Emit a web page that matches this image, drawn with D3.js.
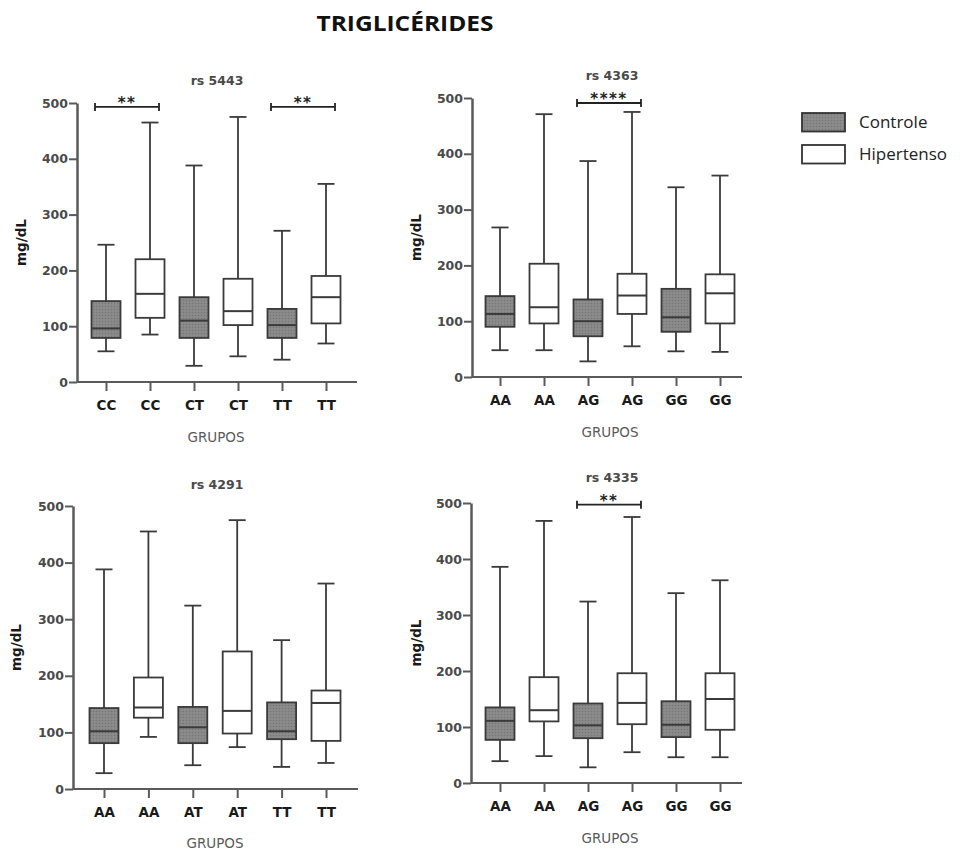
<!DOCTYPE html>
<html>
<head>
<meta charset="utf-8">
<script src="https://cdn.jsdelivr.net/npm/d3@7"></script>
<style>
  html, body { margin: 0; padding: 0; background: #fff; }
  svg { display: block; }
</style>
</head>
<body>
<svg id="chart" width="963" height="852"></svg>
<script>
// Triglycerides (mg/dL) by genotype, Controle vs Hipertenso.
// Each stats entry: [min, Q1, median, Q3, max]; groups alternate Controle / Hipertenso.
const yTicks = [0, 100, 200, 300, 400, 500];
const seriesNames = ["Controle", "Hipertenso"];

const rs5443Groups = ["CC", "CC", "CT", "CT", "TT", "TT"];
const rs5443Stats = [
  [55, 79, 96, 145, 246],
  [85, 115, 158, 220, 465],
  [29, 79, 110, 152, 388],
  [46, 102, 127, 185, 475],
  [40, 79, 102, 131, 271],
  [69, 105, 152, 190, 355]
];
const rs5443Sig = [
  { from: 0, to: 1, level: 493, label: "**" },
  { from: 4, to: 5, level: 493, label: "**" }
];

const rs4363Groups = ["AA", "AA", "AG", "AG", "GG", "GG"];
const rs4363Stats = [
  [48, 90, 113, 145, 268],
  [48, 96, 125, 203, 471],
  [28, 73, 100, 139, 387],
  [55, 113, 146, 185, 475],
  [46, 81, 107, 158, 340],
  [45, 96, 150, 184, 361]
];
const rs4363Sig = [
  { from: 2, to: 3, level: 491, label: "****" }
];

const rs4291Groups = ["AA", "AA", "AT", "AT", "TT", "TT"];
const rs4291Stats = [
  [28, 81, 102, 143, 388],
  [92, 126, 144, 197, 455],
  [42, 81, 109, 145, 324],
  [74, 98, 138, 243, 475],
  [39, 88, 102, 153, 263],
  [46, 85, 152, 174, 363]
];
const rs4291Sig = [];

const rs4335Groups = ["AA", "AA", "AG", "AG", "GG", "GG"];
const rs4335Stats = [
  [39, 77, 111, 135, 386],
  [48, 110, 130, 189, 468],
  [28, 80, 103, 142, 324],
  [55, 105, 143, 196, 475],
  [46, 82, 104, 146, 339],
  [46, 95, 150, 196, 362]
];
const rs4335Sig = [
  { from: 2, to: 3, level: 497, label: "**" }
];

const svg = d3.select("#chart");

// Crosshatch texture for the Controle boxes
const defs = svg.append("defs");
const pat = defs.append("pattern")
  .attr("id", "ctrlFill")
  .attr("width", 3).attr("height", 3)
  .attr("patternUnits", "userSpaceOnUse");
pat.append("rect").attr("width", 3).attr("height", 3).attr("fill", "#878787");
pat.append("rect").attr("x", 0).attr("y", 0).attr("width", 1).attr("height", 1).attr("fill", "#767676");
pat.append("rect").attr("x", 1.5).attr("y", 1.5).attr("width", 1).attr("height", 1).attr("fill", "#969696");

const fills = ["url(#ctrlFill)", "#ffffff"];

// Main title
svg.append("text")
  .attr("x", 405).attr("y", 31)
  .attr("text-anchor", "middle")
  .attr("font-family", "'Open Sans', sans-serif")
  .attr("font-weight", "bold")
  .attr("font-size", 21)
  .attr("textLength", 177)
  .attr("lengthAdjust", "spacingAndGlyphs")
  .attr("fill", "#111")
  .text("TRIGLICÉRIDES");

const panels = [
  { title: "rs 5443", groups: rs5443Groups, stats: rs5443Stats, sig: rs5443Sig,
    axisX: [77, 357], centers: [106, 326], yPix: [382, 103], titleX: 217, titleY: 85,
    ylabX: 21, xlabY: 412, grpY: 442 },
  { title: "rs 4363", groups: rs4363Groups, stats: rs4363Stats, sig: rs4363Sig,
    axisX: [472, 742], centers: [500, 720], yPix: [377, 98], titleX: 612, titleY: 80,
    ylabX: 416, xlabY: 410, grpY: 437 },
  { title: "rs 4291", groups: rs4291Groups, stats: rs4291Stats, sig: rs4291Sig,
    axisX: [73, 358], centers: [104, 326], yPix: [789, 506], titleX: 217, titleY: 489,
    ylabX: 16, xlabY: 815, grpY: 848 },
  { title: "rs 4335", groups: rs4335Groups, stats: rs4335Stats, sig: rs4335Sig,
    axisX: [471, 742], centers: [500, 720], yPix: [783, 503], titleX: 612, titleY: 482,
    ylabX: 416, xlabY: 813, grpY: 843 }
];

const boxW = 29, capW = 17;
const axisColor = "#5a5a5a";
const markColor = "#3a3a3a";

panels.forEach(p => {
  const g = svg.append("g");
  const idx = d3.range(p.groups.length);
  const x = d3.scalePoint().domain(idx).range(p.centers);
  const y = d3.scaleLinear().domain([0, 500]).range(p.yPix);

  // Y axis
  const yAxis = g.append("g")
    .attr("transform", `translate(${p.axisX[0]},0)`)
    .call(d3.axisLeft(y).tickValues(yTicks).tickSize(8).tickSizeOuter(0).tickPadding(1));
  yAxis.select(".domain").attr("stroke", axisColor).attr("stroke-width", 2.5);
  yAxis.selectAll(".tick line").attr("stroke", axisColor).attr("stroke-width", 2);
  yAxis.selectAll(".tick text")
    .attr("font-family", "'DejaVu Sans', sans-serif")
    .attr("font-weight", "bold")
    .attr("font-size", 12.5)
    .attr("fill", "#4a4a4a");

  // X axis
  const xAxis = g.append("g")
    .attr("transform", `translate(0,${y(0)})`)
    .call(d3.axisBottom(x).tickFormat(i => p.groups[i]).tickSize(9).tickPadding(9));
  xAxis.select(".domain").remove();
  xAxis.append("line")
    .attr("x1", p.axisX[0]).attr("x2", p.axisX[1])
    .attr("stroke", axisColor).attr("stroke-width", 2);
  xAxis.selectAll(".tick line").attr("stroke", axisColor).attr("stroke-width", 2);
  xAxis.selectAll(".tick text")
    .attr("font-family", "'DejaVu Sans', sans-serif")
    .attr("font-weight", "bold")
    .attr("font-size", 13.5)
    .attr("fill", "#1a1a1a");

  // Panel title
  g.append("text")
    .attr("x", p.titleX).attr("y", p.titleY)
    .attr("text-anchor", "middle")
    .attr("font-family", "'DejaVu Sans', sans-serif")
    .attr("font-weight", "bold")
    .attr("font-size", 12.5)
    .attr("fill", "#4a4a4a")
    .text(p.title);

  // Axis titles
  g.append("text")
    .attr("transform", `translate(${p.ylabX},${y(250)}) rotate(-90)`)
    .attr("text-anchor", "middle")
    .attr("dy", "0.35em")
    .attr("font-family", "'DejaVu Sans', sans-serif")
    .attr("font-weight", "bold")
    .attr("font-size", 13.5)
    .attr("fill", "#1a1a1a")
    .text("mg/dL");

  g.append("text")
    .attr("x", (p.centers[0] + p.centers[1]) / 2).attr("y", p.grpY)
    .attr("text-anchor", "middle")
    .attr("font-family", "'DejaVu Sans', sans-serif")
    .attr("font-size", 13.5)
    .attr("fill", "#5a5a5a")
    .text("GRUPOS");

  // Box plots
  const boxes = g.selectAll(".box").data(p.stats).join("g").attr("class", "box");
  boxes.each(function(s, i) {
    const b = d3.select(this);
    const cx = x(i);
    const [mn, q1, md, q3, mx] = s;
    // whiskers
    b.append("line").attr("x1", cx).attr("x2", cx).attr("y1", y(mx)).attr("y2", y(q3))
      .attr("stroke", markColor).attr("stroke-width", 1.8);
    b.append("line").attr("x1", cx).attr("x2", cx).attr("y1", y(q1)).attr("y2", y(mn))
      .attr("stroke", markColor).attr("stroke-width", 1.8);
    b.append("line").attr("x1", cx - capW / 2).attr("x2", cx + capW / 2).attr("y1", y(mx)).attr("y2", y(mx))
      .attr("stroke", markColor).attr("stroke-width", 1.8);
    b.append("line").attr("x1", cx - capW / 2).attr("x2", cx + capW / 2).attr("y1", y(mn)).attr("y2", y(mn))
      .attr("stroke", markColor).attr("stroke-width", 1.8);
    // box
    b.append("rect")
      .attr("x", cx - boxW / 2).attr("width", boxW)
      .attr("y", y(q3)).attr("height", y(q1) - y(q3))
      .attr("fill", fills[i % 2])
      .attr("stroke", markColor).attr("stroke-width", 1.8);
    // median
    b.append("line").attr("x1", cx - boxW / 2).attr("x2", cx + boxW / 2).attr("y1", y(md)).attr("y2", y(md))
      .attr("stroke", markColor).attr("stroke-width", 2);
  });

  // Significance brackets
  p.sig.forEach(s => {
    const x1 = x(s.from) - 11, x2 = x(s.to) + 9, yy = y(s.level);
    g.append("line").attr("x1", x1).attr("x2", x2).attr("y1", yy).attr("y2", yy)
      .attr("stroke", "#222").attr("stroke-width", 1.8);
    [x1, x2].forEach(xx => g.append("line")
      .attr("x1", xx).attr("x2", xx).attr("y1", yy - 4).attr("y2", yy + 4)
      .attr("stroke", "#222").attr("stroke-width", 1.8));
    g.append("text")
      .attr("x", (x1 + x2) / 2).attr("y", yy + 1)
      .attr("text-anchor", "middle")
      .attr("font-family", "'DejaVu Sans', sans-serif")
      .attr("font-weight", "bold")
      .attr("font-size", 15)
      .attr("letter-spacing", 1.5)
      .attr("fill", "#222")
      .text(s.label);
  });
});

// Legend
const legend = svg.append("g");
seriesNames.forEach((name, i) => {
  const ly = 113 + i * 32;
  legend.append("rect")
    .attr("x", 802).attr("y", ly).attr("width", 43).attr("height", 18.5)
    .attr("fill", fills[i]).attr("stroke", "#333").attr("stroke-width", 1.8);
  legend.append("text")
    .attr("x", 859).attr("y", ly + 9.5)
    .attr("dy", "0.35em")
    .attr("font-family", "'Open Sans', sans-serif")
    .attr("font-size", 17)
    .attr("fill", "#222")
    .text(name);
});
</script>
</body>
</html>
